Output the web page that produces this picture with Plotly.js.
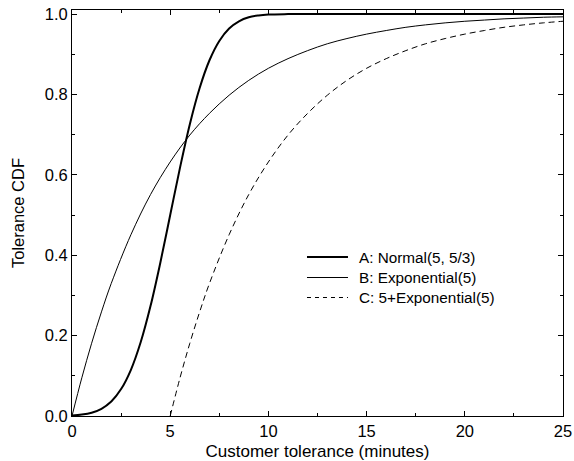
<!DOCTYPE html>
<html><head><meta charset="utf-8">
<script src="https://cdn.plot.ly/plotly-3.0.1.min.js"></script>
<style>html,body{margin:0;padding:0;background:#fff}</style>
</head><body><div id="chart" style="width:574px;height:461px"></div>
<script>
// Curve A: Normal(5, 5/3)
const xA = [0,0.5,1,1.5,2,2.5,3,3.5,4,4.5,5,5.5,6,6.5,7,7.5,8,8.5,9,9.5,10,11,12,15,20,25];
const yA = [0.0013,0.0035,0.0082,0.018,0.036,0.067,0.115,0.184,0.274,0.382,0.5,0.618,0.726,0.816,0.885,0.933,0.964,0.982,0.992,0.9965,0.9987,0.9998,1.0,1.0,1.0,1.0];
// Curve B: Exponential(5)
const xB = [0,0.5,1,1.5,2,3,4,5,6,7,8,9,10,11,12,13,14,15,16,17,18,19,20,21,22,23,24,25];
const yB = [0,0.095,0.181,0.259,0.330,0.451,0.551,0.632,0.699,0.753,0.798,0.835,0.865,0.889,0.909,0.926,0.939,0.950,0.959,0.967,0.973,0.978,0.982,0.985,0.988,0.990,0.992,0.993];
// Curve C: 5+Exponential(5)
const xC = [5,5.5,6,6.5,7,8,9,10,11,12,13,14,15,16,17,18,19,20,21,22,23,24,25];
const yC = [0,0.095,0.181,0.259,0.330,0.451,0.551,0.632,0.699,0.753,0.798,0.835,0.865,0.889,0.909,0.926,0.939,0.950,0.959,0.967,0.973,0.978,0.982];
const names = ["A: Normal(5, 5/3)","B: Exponential(5)","C: 5+Exponential(5)"];
const xTicks = [0,5,10,15,20,25];
const yTicks = [0,0.2,0.4,0.6,0.8,1.0];

const family = "Liberation Sans, Arial, sans-serif";
const font = {family:family, size:16.5, color:"#000"};
const titleFont = {family:family, size:17, color:"#000"};
const legFont = {family:family, size:15.3, color:"#000"};
const styles = [
  {color:"#000", width:2},
  {color:"#000", width:1},
  {color:"#000", width:1, dash:"6px,4px"}
];
const traces = [
  {x:xA, y:yA, name:names[0], mode:"lines", line:Object.assign({shape:"spline"}, styles[0])},
  {x:xB, y:yB, name:names[1], mode:"lines", line:Object.assign({shape:"spline"}, styles[1])},
  {x:xC, y:yC, name:names[2], mode:"lines", line:Object.assign({shape:"spline"}, styles[2])}
];
// custom legend (layout only)
const legX0 = 0.4786, legX1 = 0.5621, legTx = 0.58, legY = [0.3916, 0.34113, 0.29187];
const shapes = [], annotations = [];
names.forEach((n, i) => {
  shapes.push({type:"line", xref:"paper", yref:"paper", x0:legX0, x1:legX1, y0:legY[i], y1:legY[i],
    line:Object.assign({}, styles[i], i===2 ? {dash:"4px,4px"} : {})});
  annotations.push({xref:"paper", yref:"paper", x:legTx, y:legY[i], xanchor:"left", yanchor:"middle",
    text:n, showarrow:false, font:legFont});
});
const axisCommon = {showgrid:false, zeroline:false, showline:true, linecolor:"#000", linewidth:1,
  mirror:"allticks", ticks:"inside", ticklen:5, tickcolor:"#000", tickwidth:1, tickfont:font};
const layout = {
  width:574, height:461, paper_bgcolor:"#fff", plot_bgcolor:"#fff",
  margin:{l:72, r:11, t:10, b:45}, font:font, showlegend:false,
  shapes:shapes, annotations:annotations,
  xaxis:Object.assign({}, axisCommon, {range:[0,25], tickvals:xTicks, ticktext:xTicks.map(String),
    minor:{ticks:"inside", dtick:2.5, ticklen:3, tickcolor:"#000"},
    title:{text:"Customer tolerance (minutes)", font:titleFont, standoff:6}}),
  yaxis:Object.assign({}, axisCommon, {range:[0,1.01], tickvals:yTicks, ticktext:yTicks.map(v=>v.toFixed(1)),
    minor:{ticks:"inside", dtick:0.1, ticklen:3, tickcolor:"#000"},
    title:{text:"Tolerance CDF", font:font, standoff:15}})
};
Plotly.newPlot("chart", traces, layout, {staticPlot:true});
</script></body></html>
